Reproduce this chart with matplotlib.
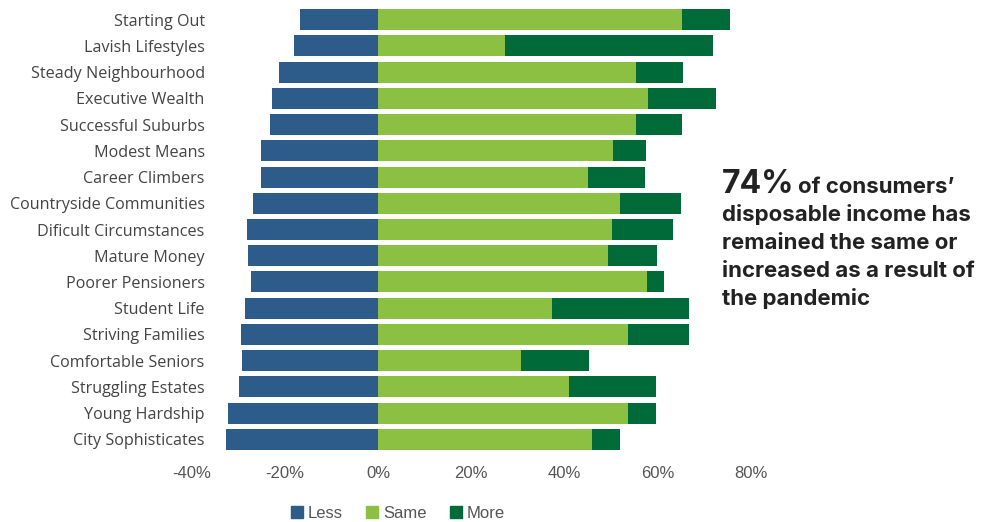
import numpy as np
import matplotlib.pyplot as plt
from matplotlib.patches import Patch

# segments, top to bottom
segments = ["Starting Out", "Lavish Lifestyles", "Steady Neighbourhood", "Executive Wealth",
            "Successful Suburbs", "Modest Means", "Career Climbers", "Countryside Communities",
            "Dificult Circumstances", "Mature Money", "Poorer Pensioners", "Student Life",
            "Striving Families", "Comfortable Seniors", "Struggling Estates", "Young Hardship",
            "City Sophisticates"]
less = [16.7, 18.0, 21.2, 22.7, 23.2, 25.1, 25.1, 26.8, 28.1, 27.9, 27.2, 28.5, 29.4, 29.2, 29.8, 32.2, 32.6]
same = [65.2, 27.2, 55.3, 57.9, 55.3, 50.4, 45.0, 51.9, 50.2, 49.3, 57.7, 37.3, 53.6, 30.7, 41.0, 53.6, 45.9]
more = [10.3, 44.6, 10.1, 14.6, 9.9, 7.1, 12.2, 13.1, 13.1, 10.5, 3.6, 29.4, 13.1, 14.6, 18.7, 6.0, 6.0]
xticks = [-40, -20, 0, 20, 40, 60, 80]

c_less = "#2d5b8a"
c_same = "#8cc043"
c_more = "#006b38"

fig = plt.figure(figsize=(9.85, 5.22), dpi=100)
ax = fig.add_axes([191.5 / 985, 1 - 452.6 / 522, (751 - 191.5) / 985, (452.6 - 6.4) / 522])

y = np.arange(len(segments))
less = np.array(less)
same = np.array(same)
more = np.array(more)
ax.barh(y, -less, height=0.8, color=c_less)
ax.barh(y, same, height=0.8, color=c_same)
ax.barh(y, more, left=same, height=0.8, color=c_more)

ax.set_xlim(-40, 80)
ax.set_ylim(len(segments) - 0.5, -0.5)
ax.set_yticks(y)
ax.set_yticklabels(segments, fontfamily="Open Sans", fontsize=11.6, color="#444444")
ax.set_xticks(xticks)
ax.set_xticklabels([f"{t}%" for t in xticks], fontfamily="Liberation Sans", fontsize=12, color="#555555")
ax.tick_params(axis="y", length=0, pad=-9.5)
ax.tick_params(axis="x", length=0, pad=10)
for s in ax.spines.values():
    s.set_visible(False)

handles = [Patch(color=c_less, label="Less"), Patch(color=c_same, label="Same"), Patch(color=c_more, label="More")]
fig.legend(handles=handles, loc="center", bbox_to_anchor=(398 / 985, 1 - 513 / 522), ncol=3, frameon=False,
           handlelength=0.7, handleheight=0.7, handletextpad=0.3, columnspacing=1.4,
           prop={"family": "Liberation Sans", "size": 12}, labelcolor="#555555")

# callout text
big = fig.text(722 / 985, 1 - 193 / 522, "74%", fontsize=23, fontweight="bold", color="#222222",
               fontfamily="Inter", va="baseline", ha="left")
fig.canvas.draw()
bb = big.get_window_extent()
fig.text((bb.x1 + 3) / 985, 1 - 193 / 522, "of consumers\u2019", fontsize=16, fontweight="bold",
         color="#222222", fontfamily="Inter", va="baseline", ha="left")
lines = ["disposable income has", "remained the same or", "increased as a result of", "the pandemic"]
for i, line in enumerate(lines):
    fig.text(722 / 985, 1 - (221 + 28 * i) / 522, line, fontsize=16, fontweight="bold", color="#222222",
             fontfamily="Inter", va="baseline", ha="left")

fig.savefig("out.png", dpi=100)
